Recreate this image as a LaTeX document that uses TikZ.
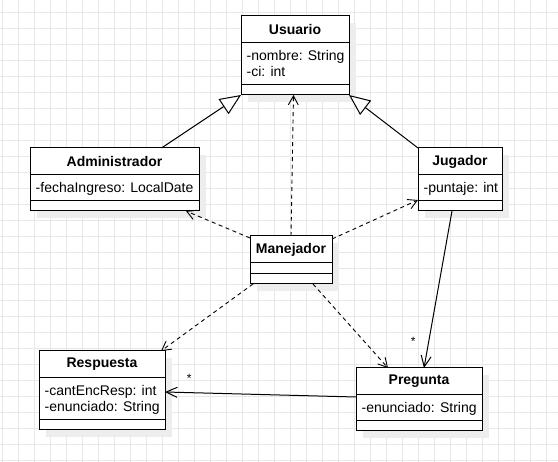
\documentclass[tikz,border=0pt]{standalone}
\usepackage{fontspec}
\setmainfont{Liberation Sans}
\usetikzlibrary{arrows.meta,shadows}
\begin{document}
\begin{tikzpicture}[x=1pt,y=-1pt,
  cls/.style={draw=black, fill=white, line width=1pt, anchor=north west, inner sep=0pt, outer sep=0pt,
    drop shadow={shadow xshift=7pt, shadow yshift=-7pt, fill=black!7, opacity=1}},
  ttl/.style={font=\fontsize{14}{16}\selectfont\bfseries, inner sep=0pt},
  att/.style={font=\fontsize{14}{16}\selectfont, inner sep=0pt, anchor=west, text height=10pt, text depth=3pt},
  sepline/.style={line width=1pt},
  dep/.style={line width=0.9pt, dash pattern=on 4pt off 3.5pt, -{Straight Barb[length=9pt,width=10pt]}},
  inh/.style={line width=1pt, -{Triangle[open,length=21pt,width=18pt,fill=white]}},
  asc/.style={line width=1pt, -{Straight Barb[length=11pt,width=10pt]}},
  mult/.style={font=\fontsize{12}{12}\selectfont, inner sep=0pt},
  gridline/.style={black!9, line width=1pt}]
\useasboundingbox (0,0) rectangle (558,462);
\fill[white] (0,0) rectangle (558,462);
\foreach \x in {2,18,...,546} \draw[gridline] (\x,0) -- (\x,462);
\foreach \y in {13,29,...,461} \draw[gridline] (0,\y) -- (558,\y);

% Usuario
\node[cls, minimum width=108pt, minimum height=79pt] (usu) at (241,16) {};
\draw[sepline] ([yshift=-27pt]usu.north west) -- ([yshift=-27pt]usu.north east);
\draw[sepline] ([yshift=10pt]usu.south west) -- ([yshift=10pt]usu.south east);
\node[ttl] (usut) at ([yshift=-13.5pt]usu.north) {Usuario};
\node[att] (usua1) at ([shift={(5.5pt,-41pt)}]usu.north west) {-nombre: String};
\node[att] (usua2) at ([shift={(5.5pt,-57pt)}]usu.north west) {-ci: int};

% Administrador
\node[cls, minimum width=169pt, minimum height=63pt] (adm) at (30,148) {};
\draw[sepline] ([yshift=-27pt]adm.north west) -- ([yshift=-27pt]adm.north east);
\draw[sepline] ([yshift=10pt]adm.south west) -- ([yshift=10pt]adm.south east);
\node[ttl] (admt) at ([yshift=-13.5pt]adm.north) {Administrador};
\node[att] (adma1) at ([shift={(5.5pt,-41pt)}]adm.north west) {-fechaIngreso: LocalDate};

% Jugador
\node[cls, minimum width=84pt, minimum height=63pt] (jug) at (418,148) {};
\draw[sepline] ([yshift=-27pt]jug.north west) -- ([yshift=-27pt]jug.north east);
\draw[sepline] ([yshift=10pt]jug.south west) -- ([yshift=10pt]jug.south east);
\node[ttl] (jugt) at ([yshift=-13.5pt]jug.north) {Jugador};
\node[att] (juga1) at ([shift={(5.5pt,-41pt)}]jug.north west) {-puntaje: int};

% Manejador
\node[cls, minimum width=82pt, minimum height=48pt] (man) at (250,236) {};
\draw[sepline] ([yshift=-27pt]man.north west) -- ([yshift=-27pt]man.north east);
\draw[sepline] ([yshift=10pt]man.south west) -- ([yshift=10pt]man.south east);
\node[ttl] (mant) at ([yshift=-13.5pt]man.north) {Manejador};

% Respuesta
\node[cls, minimum width=126pt, minimum height=79pt] (resp) at (39,351) {};
\draw[sepline] ([yshift=-27pt]resp.north west) -- ([yshift=-27pt]resp.north east);
\draw[sepline] ([yshift=10pt]resp.south west) -- ([yshift=10pt]resp.south east);
\node[ttl] (respt) at ([yshift=-13.5pt]resp.north) {Respuesta};
\node[att] (respa1) at ([shift={(5.5pt,-41pt)}]resp.north west) {-cantEncResp: int};
\node[att] (respa2) at ([shift={(5.5pt,-57pt)}]resp.north west) {-enunciado: String};

% Pregunta
\node[cls, minimum width=126pt, minimum height=63pt] (preg) at (356,368) {};
\draw[sepline] ([yshift=-27pt]preg.north west) -- ([yshift=-27pt]preg.north east);
\draw[sepline] ([yshift=10pt]preg.south west) -- ([yshift=10pt]preg.south east);
\node[ttl] (pregt) at ([yshift=-13.5pt]preg.north) {Pregunta};
\node[att] (prega1) at ([shift={(5.5pt,-41pt)}]preg.north west) {-enunciado: String};

% connectors
\draw[inh] ([xshift=47pt]adm.north) -- (usu.south west);
\draw[inh] (jug.north west) -- (usu.south east);
\draw[dep] (man.north) -- ([xshift=-1.5pt]usu.south);
\draw[dep] ([yshift=-2pt]man.north west) -- ([xshift=-13pt]adm.south east);
\draw[dep] ([yshift=-3pt]man.north east) -- ([yshift=11pt]jug.south west);
\draw[dep] ([xshift=3pt]man.south west) -- ([xshift=-4pt]resp.north east);
\draw[dep] ([xshift=22pt]man.south) -- ([xshift=32pt]preg.north west);
\draw[asc] ([xshift=-8pt]jug.south) -- ([xshift=5pt]preg.north);
\draw[asc] ([yshift=-29pt]preg.north west) -- ([yshift=-41pt]resp.north east);
\node[mult] (m1) at ([shift={(-5.7pt,27pt)}]preg.north) {*};
\node[mult] (m2) at ([shift={(24.3pt,-27pt)}]resp.north east) {*};
\end{tikzpicture}
\end{document}
